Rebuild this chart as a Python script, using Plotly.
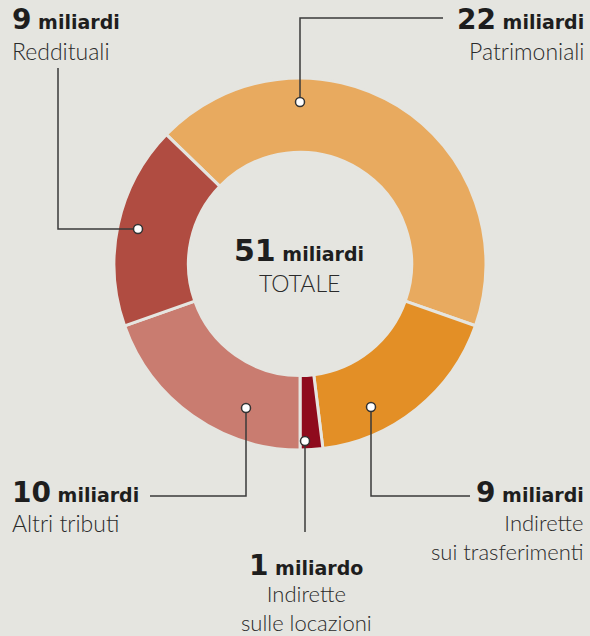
import plotly.graph_objects as go

W, H = 590, 636
BG = "#e5e5e0"

# Data
categories = ["Patrimoniali", "Indirette sui trasferimenti", "Indirette sulle locazioni", "Altri tributi", "Reddituali"]
values = [22, 9, 1, 10, 9]
colors = ["#e8aa5f", "#e38f26", "#8f0b1d", "#c97c70", "#b04c41"]
value_labels = ["22", "9", "1", "10", "9"]
unit_labels = ["miliardi", "miliardi", "miliardo", "miliardi", "miliardi"]
desc_labels = ["Patrimoniali", "Indirette<br>sui trasferimenti", "Indirette<br>sulle locazioni",
               "Altri tributi", "Reddituali"]
total_value = "51"
total_unit = "miliardi"
total_label = "TOTALE"

HFONT = "DejaVu Sans"
DFONT = "Lato"
DARK = "#1e1e1e"

def px(x):
    return x / W

def py(y):
    return 1 - y / H

cx, cy, R = 300, 264, 186

fig = go.Figure(go.Pie(
    labels=categories, values=values, sort=False, direction="clockwise",
    rotation=-45.9, hole=0.6,
    marker=dict(colors=colors, line=dict(color=BG, width=3)),
    textinfo="none", hoverinfo="label+value", showlegend=False,
    domain=dict(x=[px(cx - R), px(cx + R)], y=[py(cy + R), py(cy - R)]),
))

annotations = []
shapes = []

def head(text_num, unit, x, y, anchor, nsize=28):
    annotations.append(dict(
        x=px(x), y=py(y), xref="paper", yref="paper", xanchor=anchor, yanchor="middle",
        showarrow=False, borderpad=0,
        text=f"<b><span style='font-size:{nsize}px'>{text_num}</span> {unit}</b>",
        font=dict(family=HFONT, size=19, color=DARK)))

def desc(text, x, y, anchor, size=23):
    annotations.append(dict(
        x=px(x), y=py(y), xref="paper", yref="paper", xanchor=anchor, yanchor="middle",
        showarrow=False, borderpad=0, text=text, align=anchor if anchor != "center" else "center",
        font=dict(family=DFONT, size=size, color="#2a2a2a", weight=300)))

def leader(points, dot):
    d = "M " + " L ".join(f"{px(a)},{py(b)}" for a, b in points)
    shapes.append(dict(type="path", path=d, xref="paper", yref="paper",
                       line=dict(color="#3a3a3a", width=1.5)))
    r = 4.5
    shapes.append(dict(type="circle", xref="paper", yref="paper",
                       x0=px(dot[0] - r), x1=px(dot[0] + r), y0=py(dot[1] + r), y1=py(dot[1] - r),
                       fillcolor="white", line=dict(color="#333", width=1.5)))

# Patrimoniali
head(value_labels[0], unit_labels[0], 585, 20, "right")
desc(desc_labels[0], 585, 51, "right")
leader([(300, 102), (300, 18), (443, 18)], (300, 102))
# Indirette sui trasferimenti
head(value_labels[1], unit_labels[1], 585, 492, "right")
desc(desc_labels[1], 585, 537, "right", size=22)
leader([(371, 407), (371, 496), (470, 496)], (371, 407))
# Indirette sulle locazioni
head(value_labels[2], unit_labels[2], 306, 565, "center")
desc(desc_labels[2], 306, 608, "center", size=22)
leader([(305, 441), (305, 532)], (305, 441))
# Altri tributi
head(value_labels[3], unit_labels[3], 11, 492, "left")
desc(desc_labels[3], 11, 523, "left")
leader([(246, 408), (246, 496), (150, 496)], (246, 408))
# Reddituali
head(value_labels[4], unit_labels[4], 11, 20, "left")
desc(desc_labels[4], 11, 51, "left")
leader([(138, 229), (58, 229), (58, 68)], (138, 229))

# Center
head(total_value, total_unit, 299, 250, "center", nsize=30)
desc(total_label, 299, 283, "center")

fig.update_layout(
    width=W, height=H, margin=dict(l=0, r=0, t=0, b=0),
    paper_bgcolor=BG, plot_bgcolor=BG,
    annotations=annotations, shapes=shapes,
)
fig.write_html("out.html")
